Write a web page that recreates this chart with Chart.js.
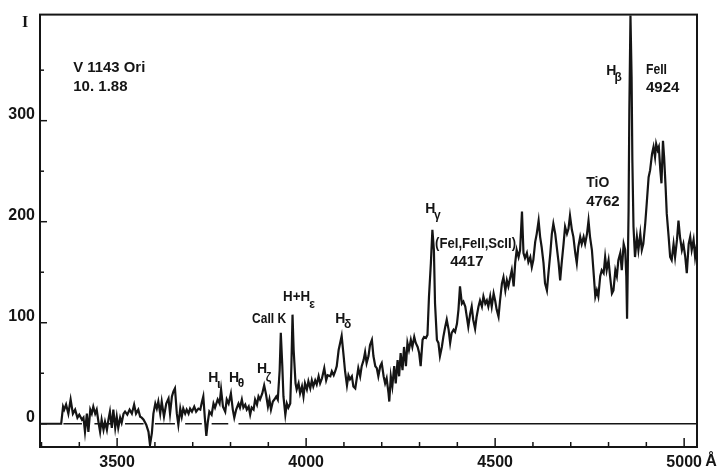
<!DOCTYPE html>
<html>
<head>
<meta charset="utf-8">
<script src="https://cdn.jsdelivr.net/npm/chart.js@4.4.1/dist/chart.umd.min.js"></script>
<style>
  html, body { margin: 0; padding: 0; background: #fff; }
  #wrap { position: relative; width: 718px; height: 470px; }
</style>
</head>
<body>
<div id="wrap"><canvas id="espectro"></canvas></div>
<script>
// Espectro de V 1143 Ori (10.1.88)
const wavelengths = [
  3296, 3352, 3357, 3360, 3365, 3371, 3377, 3383, 3389, 3395,
  3400, 3407, 3411, 3415, 3420, 3424, 3429, 3433, 3437, 3442,
  3446, 3451, 3455, 3459, 3464, 3468, 3473, 3477, 3481, 3486,
  3490, 3495, 3499, 3503, 3508, 3512, 3517, 3521, 3527, 3533,
  3539, 3545, 3550, 3556, 3561, 3565, 3570, 3577, 3583, 3587,
  3592, 3596, 3601, 3605, 3609, 3614, 3618, 3624, 3630, 3636,
  3640, 3645, 3649, 3653, 3658, 3662, 3667, 3671, 3675, 3680,
  3684, 3689, 3693, 3698, 3704, 3709, 3715, 3720, 3724, 3728,
  3732, 3736, 3740, 3744, 3750, 3755, 3759, 3766, 3771, 3775,
  3780, 3786, 3790, 3795, 3801, 3806, 3810, 3815, 3821, 3825,
  3830, 3834, 3839, 3843, 3848, 3852, 3856, 3861, 3865, 3870,
  3874, 3878, 3884, 3889, 3894, 3899, 3903, 3907, 3912, 3916,
  3921, 3925, 3930, 3933, 3937, 3940, 3945, 3949, 3953, 3958,
  3961, 3964, 3967, 3972, 3975, 3980, 3984, 3989, 3993, 3997,
  4002, 4006, 4011, 4015, 4019, 4024, 4028, 4033, 4037, 4042,
  4048, 4053, 4057, 4064, 4068, 4073, 4077, 4081, 4086, 4090,
  4094, 4099, 4103, 4108, 4112, 4116, 4121, 4125, 4130, 4134,
  4138, 4143, 4147, 4152, 4156, 4160, 4165, 4169, 4174, 4178,
  4183, 4187, 4191, 4196, 4200, 4205, 4209, 4213, 4218, 4220,
  4224, 4228, 4233, 4237, 4242, 4246, 4250, 4255, 4259, 4264,
  4268, 4272, 4277, 4281, 4286, 4290, 4295, 4299, 4303, 4308,
  4312, 4317, 4321, 4325, 4330, 4334, 4338, 4341, 4346, 4350,
  4354, 4359, 4363, 4368, 4372, 4377, 4381, 4385, 4390, 4394,
  4399, 4403, 4407, 4412, 4416, 4421, 4425, 4429, 4434, 4438,
  4442, 4447, 4451, 4456, 4460, 4465, 4469, 4474, 4478, 4482,
  4487, 4491, 4496, 4500, 4504, 4509, 4513, 4518, 4522, 4527,
  4531, 4535, 4540, 4544, 4549, 4553, 4557, 4562, 4566, 4571,
  4575, 4579, 4584, 4588, 4593, 4597, 4601, 4606, 4610, 4615,
  4619, 4623, 4628, 4632, 4637, 4641, 4646, 4650, 4654, 4659,
  4663, 4668, 4672, 4676, 4681, 4685, 4690, 4694, 4698, 4703,
  4707, 4712, 4716, 4720, 4725, 4729, 4734, 4738, 4743, 4747,
  4751, 4756, 4760, 4765, 4769, 4773, 4778, 4782, 4787, 4791,
  4795, 4800, 4804, 4809, 4813, 4818, 4822, 4826, 4831, 4835,
  4840, 4844, 4847, 4849, 4853, 4855, 4858, 4861, 4863, 4866,
  4870, 4875, 4879, 4884, 4888, 4892, 4897, 4901, 4906, 4910,
  4915, 4919, 4923, 4926, 4930, 4933, 4937, 4940, 4944, 4947,
  4951, 4954, 4959, 4963, 4967, 4972, 4976, 4981, 4985, 4989,
  4994, 4998, 5003, 5007, 5012, 5016, 5020, 5025, 5029, 5034
];
const intensity = [
  0, 0, 17, 14, 19, 10, 24, 10, 14, 6,
  9, 4, 6, -8, 10, -8, 14, 10, 17, 10,
  14, 1, -8, 4, -6, 2, -6, 4, 12, -4,
  14, -4, 7, -4, 6, 1, 10, 12, 9, 14,
  10, 19, 10, 14, 7, 6, 4, -1, -8, -21,
  -9, 10, 20, 15, 22, 10, 22, 7, 20, 25,
  10, 27, 32, 35, 10, -1, 15, 7, 15, 10,
  14, 10, 15, 12, 17, 12, 15, 14, 21, 27,
  6, -12, 2, 12, 9, 20, 16, 24, 20, 34,
  17, 12, 24, 20, 30, 14, 6, 14, 20, 16,
  24, 16, 19, 14, 17, 9, 16, 14, 24, 19,
  27, 24, 30, 38, 29, 17, 24, 14, 22, 24,
  27, 24, 53, 90, 57, 27, 9, 20, 16, 20,
  57, 108, 73, 40, 34, 40, 30, 37, 27, 40,
  34, 42, 35, 43, 37, 43, 39, 47, 40, 45,
  55, 43, 48, 47, 52, 48, 52, 57, 73, 80,
  87, 68, 52, 38, 48, 44, 47, 37, 35, 45,
  55, 47, 57, 63, 71, 60, 67, 78, 83, 67,
  57, 55, 47, 57, 60, 47, 40, 45, 30, 22,
  47, 37, 57, 40, 63, 47, 70, 53, 76, 57,
  80, 73, 83, 76, 86, 80, 76, 70, 57, 83,
  86, 85, 88, 126, 159, 192, 172, 119, 83, 80,
  67, 76, 86, 96, 103, 93, 80, 90, 93, 91,
  99, 113, 136, 119, 121, 116, 106, 96, 109, 116,
  103, 94, 106, 116, 122, 116, 126, 119, 122, 116,
  126, 116, 129, 122, 113, 106, 122, 139, 145, 132,
  142, 136, 145, 152, 136, 159, 172, 165, 172, 210,
  169, 164, 169, 160, 165, 155, 162, 180, 188, 201,
  185, 175, 159, 139, 132, 149, 169, 188, 198, 188,
  175, 159, 142, 159, 178, 195, 188, 193, 206, 192,
  185, 169, 159, 175, 185, 178, 185, 178, 188, 201,
  185, 172, 152, 126, 132, 126, 146, 152, 149, 165,
  152, 162, 146, 129, 132, 152, 146, 162, 169, 152,
  178, 172, 146, 104, 211, 310, 404, 343, 261, 195,
  165, 185, 172, 188, 172, 178, 198, 218, 244, 251,
  267, 274, 264, 277, 271, 274, 251, 238, 280, 264,
  234, 208, 185, 165, 162, 178, 165, 182, 201, 185,
  172, 178, 165, 149, 178, 185, 172, 182, 165, 178
];

// Linea de cero (tramos discontinuos y luego continua)
const baseFrom = [3358, 3440, 3521, 3600, 3680, 3750, 3821];
const baseTo   = [3407, 3485, 3570, 3653, 3724, 3794, 5034];
const baseLevel = 0;

// Etiquetas de los ejes
const xLabelTicks = [3500, 4000, 4500, 5000];
const yLabelTicks = [0, 100, 200, 300];

const INK = '#151515';
const FAMILY = '"Liberation Sans", Arial, sans-serif';

// Anotaciones (posicion en coordenadas de datos: Å, intensidad)
const notas = [
  { text: 'V 1143 Ori', x: 3384, y: 352, size: 15, w: 72 },
  { text: '10. 1.88', x: 3384, y: 333, size: 15, w: 64 },
  { text: 'H', x: 3741, y: 45, size: 14 },
  { text: 'ι', x: 3764, y: 39, size: 13 },
  { text: 'H', x: 3796, y: 45, size: 14 },
  { text: 'θ', x: 3819, y: 40, size: 12 },
  { text: 'H', x: 3870, y: 54, size: 14 },
  { text: 'ζ', x: 3893, y: 46, size: 12 },
  { text: 'CaII K', x: 3857, y: 104, size: 15, w: 34 },
  { text: 'H+H', x: 3939, y: 125, size: 14, w: 27 },
  { text: 'ε', x: 4008, y: 118, size: 12 },
  { text: 'H', x: 4077, y: 104, size: 14 },
  { text: 'δ', x: 4100, y: 98, size: 12 },
  { text: 'H', x: 4315, y: 212, size: 14 },
  { text: 'γ', x: 4338, y: 206, size: 12 },
  { text: '(FeI,FeII,ScII)', x: 4341, y: 178, size: 14, w: 81 },
  { text: '4417', x: 4381, y: 160, size: 15, w: 35 },
  { text: 'TiO', x: 4741, y: 238, size: 15, w: 23 },
  { text: '4762', x: 4741, y: 220, size: 15, w: 34 },
  { text: 'H', x: 4794, y: 349, size: 14 },
  { text: 'β', x: 4816, y: 343, size: 12 },
  { text: 'FeII', x: 4899, y: 350, size: 15, w: 21 },
  { text: '4924', x: 4899, y: 332, size: 15, w: 34 }
];

function buildSpectrum() {
  return wavelengths.map((w, i) => ({ x: w, y: intensity[i] }));
}

function buildBaseline() {
  const pts = [];
  baseFrom.forEach((a, i) => {
    pts.push({ x: a, y: baseLevel });
    pts.push({ x: baseTo[i], y: baseLevel });
    pts.push({ x: baseTo[i] + 1, y: null });
  });
  return pts;
}

// Marco, marcas hacia adentro y textos
const marcoPlugin = {
  id: 'marco',
  afterDraw(chart) {
    const { ctx, chartArea: a, scales } = chart;
    const sx = scales.x, sy = scales.y;
    ctx.save();
    ctx.strokeStyle = INK;
    ctx.lineWidth = 2;
    ctx.strokeRect(a.left, a.top, a.right - a.left, a.bottom - a.top);

    ctx.lineWidth = 1.5;
    sx.ticks.forEach(t => {
      const px = sx.getPixelForValue(t.value);
      const len = t.value % 500 === 0 ? 9 : 5;
      ctx.beginPath();
      ctx.moveTo(px, a.bottom);
      ctx.lineTo(px, a.bottom - len);
      ctx.stroke();
    });
    sy.ticks.forEach(t => {
      if (t.value > 350) return;
      const py = sy.getPixelForValue(t.value);
      const len = t.value % 100 === 0 ? 7 : 4;
      ctx.beginPath();
      ctx.moveTo(a.left, py);
      ctx.lineTo(a.left + len, py);
      ctx.stroke();
    });

    ctx.fillStyle = INK;
    ctx.textBaseline = 'middle';
    ctx.textAlign = 'left';
    notas.forEach(n => {
      ctx.font = 'bold ' + n.size + 'px ' + FAMILY;
      const px = sx.getPixelForValue(n.x);
      const py = sy.getPixelForValue(n.y);
      if (n.w) ctx.fillText(n.text, px, py, n.w);
      else ctx.fillText(n.text, px, py);
    });

    // "I" del eje vertical y unidad Å
    ctx.font = 'bold 16px "Liberation Serif", serif';
    ctx.textAlign = 'center';
    ctx.fillText('I', 25, sy.getPixelForValue(397));
    ctx.font = 'bold 16px ' + FAMILY;
    ctx.fillText('Å', 711, 462);
    ctx.restore();
  }
};

const config = {
  type: 'line',
  data: {
    datasets: [
      {
        label: 'V 1143 Ori',
        data: buildSpectrum(),
        borderColor: INK,
        borderWidth: 2.2,
        pointRadius: 0,
        tension: 0,
        order: 0
      },
      {
        label: 'cero',
        data: buildBaseline(),
        borderColor: INK,
        borderWidth: 1.5,
        pointRadius: 0,
        spanGaps: false,
        order: 1
      }
    ]
  },
  options: {
    responsive: true,
    maintainAspectRatio: false,
    animation: false,
    events: [],
    layout: { padding: { top: 14, right: 21, left: 0, bottom: 0 } },
    plugins: {
      legend: { display: false },
      tooltip: { enabled: false }
    },
    scales: {
      x: {
        type: 'linear',
        min: 3296,
        max: 5034,
        afterFit: s => { s.height = 23; },
        grid: { display: false, drawTicks: false },
        border: { display: false },
        ticks: {
          stepSize: 100,
          includeBounds: false,
          autoSkip: false,
          maxRotation: 0,
          padding: 6,
          color: INK,
          font: { family: FAMILY, size: 16, weight: 'bold' },
          callback: v => xLabelTicks.includes(v) ? String(v) : ''
        }
      },
      y: {
        type: 'linear',
        min: -23,
        max: 405,
        afterFit: s => { s.width = 40; },
        grid: { display: false, drawTicks: false },
        border: { display: false },
        ticks: {
          stepSize: 50,
          includeBounds: false,
          autoSkip: false,
          padding: 5,
          labelOffset: -6,
          color: INK,
          font: { family: FAMILY, size: 16, weight: 'bold' },
          callback: v => yLabelTicks.includes(v) ? String(v) : ''
        }
      }
    }
  },
  plugins: [marcoPlugin]
};

new Chart(document.getElementById('espectro').getContext('2d'), config);
</script>
</body>
</html>
